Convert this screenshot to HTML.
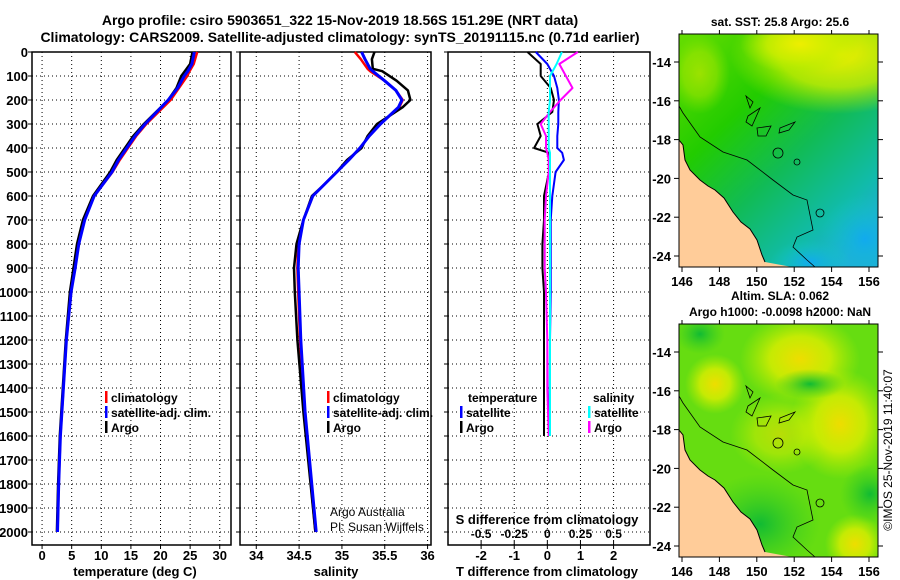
<!DOCTYPE html>
<html><head><meta charset="utf-8"><style>
body{margin:0;background:#fff}
svg{display:block;font-family:"Liberation Sans",sans-serif;font-weight:bold}
text{fill:#000}
</style></head><body>
<svg id="fig" width="900" height="580" viewBox="0 0 900 580">
<defs>
<linearGradient id="sstg" x1="0" y1="0" x2="0.8" y2="1">
<stop offset="0" stop-color="#66dd00"/><stop offset="0.35" stop-color="#22cc00"/><stop offset="0.6" stop-color="#11bb55"/><stop offset="0.85" stop-color="#11bbaa"/><stop offset="1" stop-color="#22aadd"/></linearGradient>
<radialGradient id="ylw" cx="0.5" cy="0.5" r="0.5"><stop offset="0" stop-color="#eeee00"/><stop offset="0.55" stop-color="#ccee00" stop-opacity="0.8"/><stop offset="1" stop-color="#aaee00" stop-opacity="0"/></radialGradient>
<radialGradient id="cyn" cx="0.5" cy="0.5" r="0.5"><stop offset="0" stop-color="#11aaee"/><stop offset="1" stop-color="#11ccbb" stop-opacity="0"/></radialGradient>
<radialGradient id="sy" cx="0.5" cy="0.5" r="0.5"><stop offset="0" stop-color="#eedd00"/><stop offset="0.5" stop-color="#ddee00" stop-opacity="0.8"/><stop offset="1" stop-color="#bbee00" stop-opacity="0"/></radialGradient>
<radialGradient id="sg" cx="0.5" cy="0.5" r="0.5"><stop offset="0" stop-color="#11bb33"/><stop offset="1" stop-color="#33cc22" stop-opacity="0"/></radialGradient>
<clipPath id="c1"><rect x="679" y="34" width="199" height="233"/></clipPath>
<clipPath id="c2"><rect x="679" y="324" width="199" height="233"/></clipPath>
</defs>
<text x="340" y="25" text-anchor="middle" font-size="14">Argo profile: csiro 5903651_322 15-Nov-2019 18.56S 151.29E (NRT data)</text>
<text x="340" y="42" text-anchor="middle" font-size="14">Climatology: CARS2009. Satellite-adjusted climatology: synTS_20191115.nc (0.71d earlier)</text>
<g id="panels"></g>
<g id="maps"></g>
</svg>
<script>
// depth axis
const depthTicks=[0,100,200,300,400,500,600,700,800,900,1000,1100,1200,1300,1400,1500,1600,1700,1800,1900,2000];
// temperature panel
const tDepth=[0,50,80,100,150,200,300,350,400,450,500,600,700,800,900,1000,1200,1400,1600,1800,2000];
const tArgo=[25.4,25.0,24.1,23.5,22.7,21.3,17.2,15.4,14.0,12.6,11.5,8.6,6.9,5.9,5.3,4.7,4.0,3.5,3.0,2.7,2.5];
const tClim=[26.2,25.6,24.9,24.5,23.1,21.7,17.6,15.9,14.5,13.1,11.9,8.8,7.1,6.1,5.5,4.9,4.1,3.6,3.1,2.8,2.6];
const tSat=[25.7,25.3,24.6,24.0,22.9,21.3,17.4,15.7,14.3,12.9,11.8,8.8,7.2,6.2,5.6,4.9,4.1,3.6,3.1,2.8,2.6];
const tTicks=[0,5,10,15,20,25,30];
// salinity panel
const sDepth=[0,30,70,80,120,160,200,230,300,350,400,450,500,550,600,700,800,900,1000,1200,1500,2000];
const sArgo=[35.38,35.35,35.36,35.47,35.64,35.77,35.80,35.71,35.41,35.30,35.23,35.06,34.94,34.80,34.65,34.55,34.47,34.44,34.45,34.48,34.55,34.69];
const sClim=[35.15,35.22,35.30,35.33,35.50,35.63,35.71,35.67,35.45,35.32,35.21,35.08,34.94,34.80,34.66,34.55,34.49,34.48,34.49,34.51,34.56,34.69];
const sSat=[35.23,35.27,35.33,35.36,35.50,35.63,35.70,35.66,35.45,35.32,35.21,35.08,34.94,34.80,34.66,34.55,34.50,34.49,34.50,34.52,34.57,34.70];
const sTicks=[34,34.5,35,35.5,36];
// difference panel
const dDepth=[0,50,100,150,200,250,300,350,400,420,450,500,600,700,800,900,1000,1200,1400,1600];
const dTArgo=[-0.6,-0.2,-0.2,0.1,0.2,0.15,-0.3,-0.2,-0.4,0.05,0.05,0.05,-0.1,-0.1,-0.15,-0.15,-0.1,-0.1,-0.1,-0.1];
const dTSat=[-0.35,0.0,0.2,0.3,0.35,0.33,0.33,0.3,0.3,0.45,0.5,0.25,0.15,0.1,0.1,0.1,0.1,0.08,0.07,0.06];
const dSArgo=[0.23,0.09,0.14,0.19,0.10,0.02,-0.05,-0.01,-0.01,0.0,0.01,0.01,-0.01,-0.02,-0.02,-0.02,-0.01,0.0,0.0,0.01];
const dSSat=[0.11,0.07,0.02,0.02,0.02,0.01,0.01,0.01,0.01,0.02,0.02,0.02,0.02,0.02,0.02,0.02,0.02,0.02,0.02,0.02];
const dTTicks=[-2,-1,0,1,2];
const dSTicks=[-0.5,-0.25,0,0.25,0.5];
const dSTickLabels=["-0.5","-0.25","0","0.25","0.5"];

const NS="http://www.w3.org/2000/svg";
const Y0=52,Y1=545;
const yD=d=>Y0+d*0.24;
function mk(tag,attrs,parent){const e=document.createElementNS(NS,tag);for(const k in attrs)e.setAttribute(k,attrs[k]);parent.appendChild(e);return e;}
const P=document.getElementById('panels');

function panel(name,L,R,xmin,xmax,ticks,labels,showDepth){
  const g=mk('g',{},P);
  
  
  const xf=v=>L+(v-xmin)/(xmax-xmin)*(R-L);
  for(const t of ticks){const gl=mk('line',{x1:xf(t),x2:xf(t),y1:Y0,y2:Y1,stroke:'#000','stroke-width':1,'stroke-dasharray':'1 3'},g);
    
    }
  for(const d of depthTicks){const gl=mk('line',{x1:L,x2:R,y1:yD(d),y2:yD(d),stroke:'#000','stroke-width':1,'stroke-dasharray':'1 3'},g);
    
    
    mk('line',{x1:L-4,x2:L,y1:yD(d),y2:yD(d),stroke:'#000'},g);
    if(showDepth){const t=mk('text',{x:L-4,y:yD(d)+5,'text-anchor':'end','font-size':13},g);t.textContent=d;
      
      }}
  if(labels){ticks.forEach((t,i)=>{mk('line',{x1:xf(t),x2:xf(t),y1:Y1,y2:Y1+4,stroke:'#000'},g);
    const tx=mk('text',{x:xf(t),y:560,'text-anchor':'middle','font-size':13},g);tx.textContent=labels[i];
    
    });}
  const fr=mk('rect',{x:L,y:Y0,width:R-L,height:Y1-Y0,fill:'none',stroke:'#000','stroke-width':1.5},g);
  
  
  return {g,xf};
}
function line(g,xf,xs,ds,color,name,w){
  const pts=xs.map((v,i)=>xf(v).toFixed(1)+','+yD(ds[i]).toFixed(1)).join(' ');
  const p=mk('polyline',{points:pts,fill:'none',stroke:color,'stroke-width':w||2.5,'stroke-linejoin':'round'},g);
  
  
}
function txt(g,x,y,s,name,size,anchor,weight){const t=mk('text',{x:x,y:y,'font-size':size||13,'text-anchor':anchor||'start'},g);if(weight)t.setAttribute('font-weight',weight);t.textContent=s;
  
  return t;}
function legend(g,x,y,color,label,name){const r=mk('rect',{x:x,y:y-11,width:2.5,height:12,fill:color},g);
  
  
  txt(g,x+6,y,label,name,12);}

// Panel 1 temperature
const p1=panel('temperature-panel',32,231,-1.7,31.9,tTicks,tTicks.map(String),true);
line(p1.g,p1.xf,tClim,tDepth,'#ff0000','temp-climatology-line');
line(p1.g,p1.xf,tArgo,tDepth,'#000000','temp-argo-line');
line(p1.g,p1.xf,tSat,tDepth,'#0000ff','temp-satellite-line',3);
txt(P,135,576,'temperature (deg C)','temperature-axis-title',13,'middle');
legend(p1.g,105,402,'#ff0000','climatology','legend-climatology');
legend(p1.g,105,417,'#0000ff','satellite-adj. clim.','legend-satellite');
legend(p1.g,105,432,'#000000','Argo','legend-argo');

// Panel 2 salinity
const p2=panel('salinity-panel',240,431,33.81,36.04,sTicks,['34','34.5','35','35.5','36'],false);
line(p2.g,p2.xf,sClim,sDepth,'#ff0000','sal-climatology-line');
line(p2.g,p2.xf,sArgo,sDepth,'#000000','sal-argo-line');
line(p2.g,p2.xf,sSat,sDepth,'#0000ff','sal-satellite-line',3);
txt(P,336,576,'salinity','salinity-axis-title',13,'middle');
legend(p2.g,327,402,'#ff0000','climatology','legend-climatology');
legend(p2.g,327,417,'#0000ff','satellite-adj. clim.','legend-satellite');
legend(p2.g,327,432,'#000000','Argo','legend-argo');
txt(p2.g,330,516,'Argo Australia','credit-argo-australia',12,'start','normal');
txt(p2.g,330,531,'PI: Susan Wijffels','credit-pi',12,'start','normal');

// Panel 3 differences
const p3=panel('difference-panel',448,650,-3.0,3.1,dTTicks,dTTicks.map(String),false);
const xs=v=>p3.xf(v*4);
line(p3.g,p3.xf,dTArgo,dDepth,'#000000','temp-diff-argo-line',2);
line(p3.g,p3.xf,dTSat,dDepth,'#0000ff','temp-diff-satellite-line',2);
line(p3.g,xs,dSArgo,dDepth,'#ff00ff','sal-diff-argo-line',2);
line(p3.g,xs,dSSat,dDepth,'#00ffff','sal-diff-satellite-line',2);
dSTicks.forEach((t,i)=>{mk('line',{x1:xs(t),x2:xs(t),y1:Y1,y2:Y1-4,stroke:'#000'},p3.g);
  txt(p3.g,xs(t),538,dSTickLabels[i],'s-tick-label',12,'middle');});
txt(p3.g,547,524,'S difference from climatology','s-axis-title',13,'middle');
txt(P,547,576,'T difference from climatology','t-axis-title',13,'middle');
txt(p3.g,468,402,'temperature','legend-temperature-header',12);
legend(p3.g,460,417,'#0000ff','satellite','legend-temp-satellite');
legend(p3.g,460,432,'#000000','Argo','legend-temp-argo');
txt(p3.g,593,402,'salinity','legend-salinity-header',12);
legend(p3.g,588,417,'#00ffff','satellite','legend-sal-satellite');
legend(p3.g,588,432,'#ff00ff','Argo','legend-sal-argo');

// Maps
const M=document.getElementById('maps');
const lonTicks=[146,148,150,152,154,156], latTicks=[-14,-16,-18,-20,-22,-24];
const lx=lon=>682+(lon-146)*18.7;
const coast="679,140 683,145 685,160 690,170 700,180 708,186 715,190 724,198 733,212 741,222 750,229 757,240 762,255 765,262 792,267 679,267";
const shelf="679,106 683,113 700,137 723,152 747,160 773,180 793,195 807,200 813,230 797,237 793,247 807,260 815,267";
const reefs=["746,96 750,108 753,102","748,116 760,108 752,126 746,122","757,128 771,126 766,136 758,136","780,128 795,122 789,130 779,133"];
function map(name,top,bgFn,clip,titles){
  const g=mk('g',{},M);
  
  
  const cg=mk('g',{'clip-path':'url(#'+clip+')'},g);
  bgFn(cg,top);
  const off=top-34;
  const land=mk('polygon',{points:coast,fill:'#ffcc99',transform:'translate(0,'+off+')'},cg);
  
  
  mk('polyline',{points:coast.split(' ').slice(0,14).join(' '),fill:'none',stroke:'#000','stroke-width':1,transform:'translate(0,'+off+')'},cg);
  const sh=mk('polyline',{points:shelf,fill:'none',stroke:'#000','stroke-width':0.8,transform:'translate(0,'+off+')'},cg);
  
  
  for(const r of reefs)mk('polygon',{points:r,fill:'none',stroke:'#000','stroke-width':0.8,transform:'translate(0,'+off+')'},cg);
  mk('circle',{cx:778,cy:top+119,r:5,fill:'none',stroke:'#000','stroke-width':0.8},cg);
  mk('circle',{cx:797,cy:top+128,r:3,fill:'none',stroke:'#000','stroke-width':0.8},cg);
  mk('circle',{cx:820,cy:top+179,r:4,fill:'none',stroke:'#000','stroke-width':0.8},cg);
  const fr=mk('rect',{x:679,y:top,width:199,height:233,fill:'none',stroke:'#000','stroke-width':1},g);
  
  
  for(const l of lonTicks){mk('line',{x1:lx(l),x2:lx(l),y1:top+233,y2:top+238,stroke:'#000'},g);
    mk('line',{x1:lx(l),x2:lx(l),y1:top,y2:top-4,stroke:'#000'},g);
    txt(g,lx(l),top+252,String(l),'lon-tick-label',13,'middle');}
  for(const la of latTicks){const y=top+28+(-14-la)*19.4;
    mk('line',{x1:674,x2:679,y1:y,y2:y,stroke:'#000'},g);
    mk('line',{x1:878,x2:883,y1:y,y2:y,stroke:'#000'},g);
    txt(g,671,y+5,String(la),'lat-tick-label',13,'end');}
  titles.forEach((t,i)=>txt(g,780,top-8-(titles.length-1-i)*16,t,'map-title',12,'middle'));
}
map('sst-map',34,(g,top)=>{
  mk('rect',{x:679,y:top,width:199,height:233,fill:'url(#sstg)'},g);
  mk('ellipse',{cx:840,cy:top+20,rx:110,ry:60,fill:'url(#ylw)'},g);
  mk('ellipse',{cx:800,cy:top+10,rx:60,ry:30,fill:'url(#ylw)'},g);
  mk('ellipse',{cx:700,cy:top+40,rx:30,ry:40,fill:'url(#ylw)','opacity':0.5},g);
  mk('ellipse',{cx:865,cy:top+205,rx:45,ry:45,fill:'url(#cyn)'},g);
  mk('ellipse',{cx:810,cy:top+228,rx:40,ry:22,fill:'url(#cyn)'},g);
},'c1',['sat. SST: 25.8 Argo: 25.6']);
map('sla-map',324,(g,top)=>{
  mk('rect',{x:679,y:top,width:199,height:233,fill:'#66dd11'},g);
  mk('ellipse',{cx:840,cy:top+100,rx:50,ry:55,fill:'url(#sy)'},g);
  mk('ellipse',{cx:800,cy:top+35,rx:60,ry:45,fill:'url(#sy)'},g);
  mk('ellipse',{cx:780,cy:top+110,rx:50,ry:40,fill:'url(#sy)','opacity':0.6},g);
  mk('ellipse',{cx:715,cy:top+60,rx:30,ry:30,fill:'url(#sy)'},g);
  mk('ellipse',{cx:855,cy:top+220,rx:30,ry:30,fill:'url(#sy)'},g);
  mk('ellipse',{cx:760,cy:top+200,rx:60,ry:50,fill:'url(#sg)'},g);
  mk('ellipse',{cx:870,cy:top+170,rx:30,ry:30,fill:'url(#sg)'},g);
  mk('ellipse',{cx:810,cy:top+60,rx:35,ry:15,fill:'url(#sg)'},g);
  mk('ellipse',{cx:700,cy:top+10,rx:25,ry:20,fill:'url(#sg)'},g);
},'c2',['Altim. SLA: 0.062','Argo h1000: -0.0098 h2000: NaN']);
const cp=txt(M,892,450,'©IMOS 25-Nov-2019 11:40:07','copyright-timestamp',12,'middle','normal');
cp.setAttribute('transform','rotate(-90 892 450)');
</script>
</body></html>
